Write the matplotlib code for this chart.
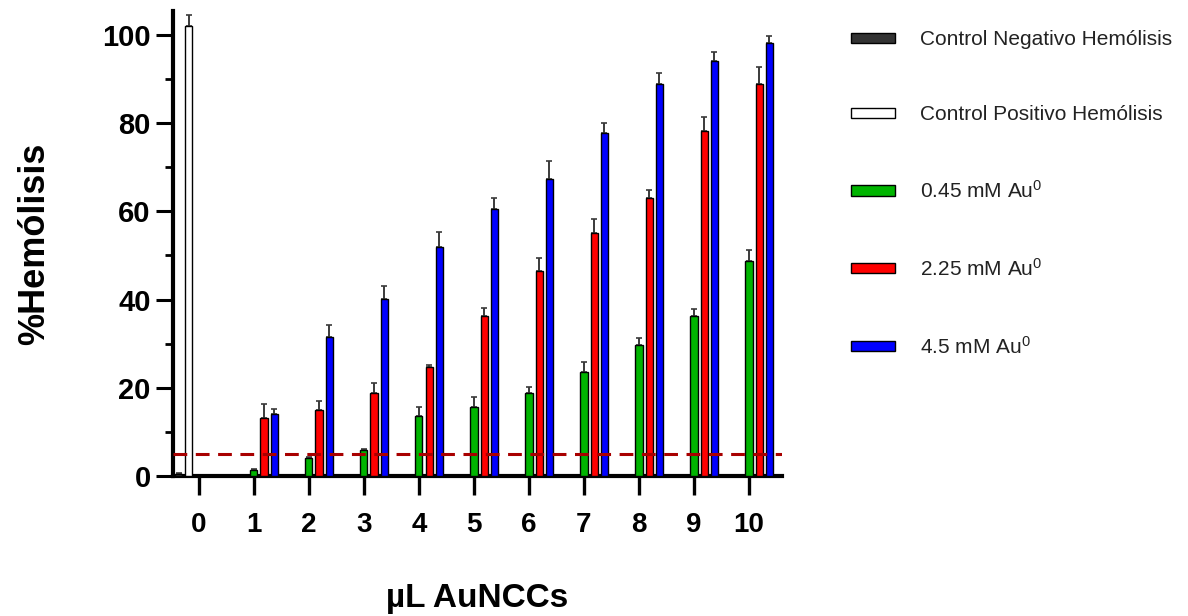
import numpy as np
import matplotlib
matplotlib.use("Agg")
import matplotlib.pyplot as plt

plt.rcParams['font.family'] = ['Liberation Sans', 'DejaVu Sans']
plt.rcParams['mathtext.default'] = 'regular'

# ---- data ----
doses = list(range(11))                       # µL AuNCCs
tick_labels = [str(d) for d in doses]
treat_doses = list(range(1, 11))

neg_ctrl = [0.5]
neg_err = [0.2]
pos_ctrl = [102.0]
pos_err = [2.5]

au_045 = [1.4, 4.0, 5.8, 13.6, 15.7, 18.8, 23.6, 29.7, 36.3, 48.8]
au_045_err = [0.3, 0.3, 0.3, 2.0, 2.3, 1.3, 2.2, 1.5, 1.5, 2.5]
au_225 = [13.1, 15.0, 18.8, 24.8, 36.3, 46.5, 55.1, 63.0, 78.2, 88.9]
au_225_err = [3.2, 2.0, 2.3, 0.3, 1.8, 2.9, 3.1, 1.8, 3.2, 3.9]
au_45 = [14.0, 31.5, 40.1, 52.0, 60.5, 67.3, 77.8, 88.9, 94.1, 98.2]
au_45_err = [1.3, 2.7, 3.0, 3.4, 2.5, 4.1, 2.3, 2.4, 2.0, 1.5]

threshold = 5.0

labels = ["Control Negativo Hemólisis", "Control Positivo Hemólisis",
          "0.45 mM Au$^{0}$", "2.25 mM Au$^{0}$", "4.5 mM Au$^{0}$"]
colors = ["#333333", "#ffffff", "#00b400", "#ff0000", "#0000ff"]

# ---- figure ----
fig = plt.figure(figsize=(11.88, 6.16), dpi=100)
ax = fig.add_axes([173/1188, 1-476/616, (782-173)/1188, (476-11)/616])

slot = 0.185
width = 0.13
series = [
    ([0], neg_ctrl, neg_err),
    ([0], pos_ctrl, pos_err),
    (treat_doses, au_045, au_045_err),
    (treat_doses, au_225, au_225_err),
    (treat_doses, au_45, au_45_err),
]
handles = []
for i, (xs, ys, es) in enumerate(series):
    xpos = np.array(xs, dtype=float) + (i - 2) * slot
    h = ax.bar(xpos, ys, width=width, color=colors[i], edgecolor='black',
               linewidth=1.0, label=labels[i], zorder=3)
    ax.errorbar(xpos, ys, yerr=[np.zeros(len(es)), es], fmt='none',
                ecolor='#3a3a3a', elinewidth=1.4, capsize=2, capthick=1.2,
                zorder=2)
    handles.append(h)

ax.axhline(threshold, color='#a80000', linestyle=(0, (4.5, 2.8)),
           linewidth=2.2, zorder=5)

ax.set_xlim(-0.47, 10.6)
ax.set_ylim(0, 105.4)
ax.set_xticks(doses)
ax.set_xticklabels(tick_labels)
ax.set_yticks([0, 20, 40, 60, 80, 100])
ax.set_yticks([10, 30, 50, 70, 90], minor=True)

for s in ['top', 'right']:
    ax.spines[s].set_visible(False)
for s in ['left', 'bottom']:
    ax.spines[s].set_linewidth(3.0)

ax.tick_params(axis='y', which='major', length=12, width=2.2, pad=4,
               labelsize=21)
ax.tick_params(axis='y', which='minor', length=6, width=2.0)
ax.tick_params(axis='x', which='major', length=14, width=2.4, pad=12,
               labelsize=20)
for lab in ax.get_xticklabels() + ax.get_yticklabels():
    lab.set_fontweight('bold')

ax.set_ylabel("%Hemólisis", fontsize=26, fontweight='bold', labelpad=36)
ax.set_xlabel("µL AuNCCs", fontsize=24, fontweight='bold', labelpad=32)

fig.legend(handles=handles, labels=labels, loc='upper left',
           bbox_to_anchor=(841/1188, 1-20/616), frameon=False,
           fontsize=15, handlelength=2.1, handleheight=0.37,
           handletextpad=1.2, labelspacing=2.68, borderpad=0,
           labelcolor='#222222')

fig.savefig("out.png", dpi=100)
